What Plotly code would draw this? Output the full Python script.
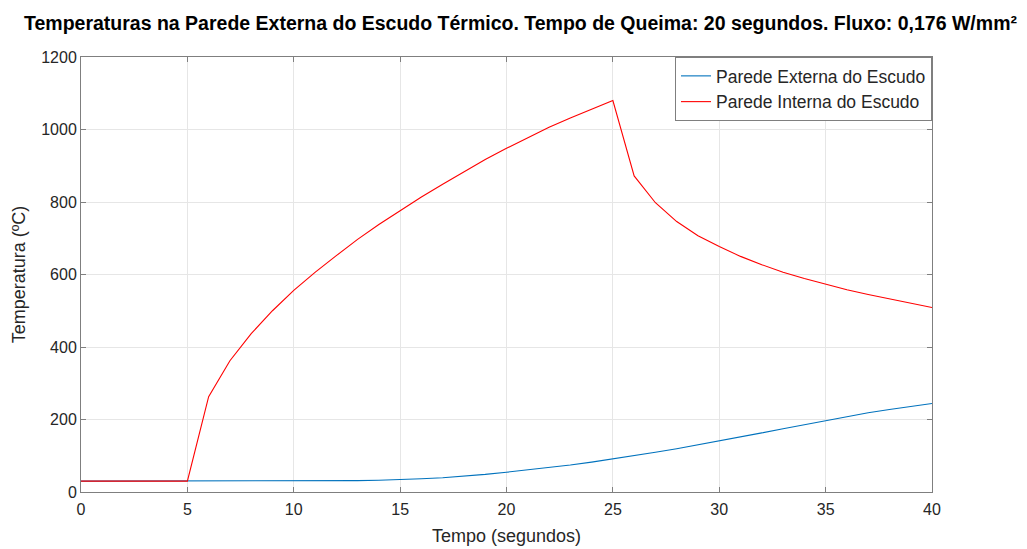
import plotly.graph_objects as go

# Time axis (seconds)
tempo = list(range(0, 41))

# Outer wall temperature (°C)
parede_externa = [
    30, 30, 30, 30, 30, 30, 30, 30, 30, 30, 30,
    30.3, 30.8, 31.5, 32.5, 34, 36.5, 39.5, 43.5, 48.5, 54.5,
    60.5, 67, 74.5, 82.5, 91, 100, 109.5, 119.5, 130, 141,
    152, 163, 174.5, 186, 197.5, 208.5, 218.5, 227.5, 236, 244,
]

# Inner wall temperature (°C)
parede_interna = [
    30, 30, 30, 30, 30, 30, 263, 362, 437, 500, 556,
    606, 652, 697, 738, 777, 814, 849, 884, 917, 948,
    978, 1006, 1032, 1057, 1080, 872, 798, 746, 707, 677,
    650, 627, 606, 589, 573, 558, 545, 533, 521, 509,
]

x_ticks = [0, 5, 10, 15, 20, 25, 30, 35, 40]
y_ticks = [0, 200, 400, 600, 800, 1000, 1200]

FONT = "Liberation Sans, Arial, sans-serif"
AXIS_COLOR = "#262626"

fig = go.Figure()
fig.add_trace(go.Scatter(
    x=tempo, y=parede_externa, mode="lines",
    name="Parede Externa do Escudo",
    line=dict(color="#0072BD", width=1.1),
))
fig.add_trace(go.Scatter(
    x=tempo, y=parede_interna, mode="lines",
    name="Parede Interna do Escudo",
    line=dict(color="#FF0000", width=1.1),
))

axis_common = dict(
    showline=True, linecolor="#7f7f7f", linewidth=1, mirror="allticks",
    ticks="inside", ticklen=5, tickcolor="#7f7f7f",
    showgrid=True, gridcolor="#e6e6e6", gridwidth=1,
    zeroline=False, automargin=False,
    tickfont=dict(family=FONT, size=16, color=AXIS_COLOR),
)

fig.update_xaxes(
    range=[0, 40], tickvals=x_ticks, ticklabelstandoff=3,
    title=dict(text="Tempo (segundos)", font=dict(family=FONT, size=18, color=AXIS_COLOR), standoff=12),
    **axis_common,
)
fig.update_yaxes(
    range=[0, 1200], tickvals=y_ticks,
    title=dict(text="Temperatura (ºC)", font=dict(family=FONT, size=18, color=AXIS_COLOR), standoff=10),
    **axis_common,
)

fig.update_layout(
    width=1027, height=549,
    margin=dict(l=81, r=95, t=57, b=57),
    paper_bgcolor="white", plot_bgcolor="white",
    showlegend=True,
    legend=dict(
        x=1, y=1, xanchor="right", yanchor="top",
        bgcolor="white", bordercolor="#7f7f7f", borderwidth=1,
        font=dict(family=FONT, size=17.5, color=AXIS_COLOR),
        itemwidth=30, tracegroupgap=0,
    ),
    annotations=[dict(
        text="<b>Temperaturas na Parede Externa do Escudo Térmico. Tempo de Queima: 20 segundos. Fluxo: 0,176 W/mm²</b>",
        xref="paper", yref="paper", x=-0.0693, y=1.0, xanchor="left", yanchor="bottom",
        yshift=21, showarrow=False,
        font=dict(family=FONT, size=19.5, color="#000000"),
    )],
)

fig.write_html("out.html")
